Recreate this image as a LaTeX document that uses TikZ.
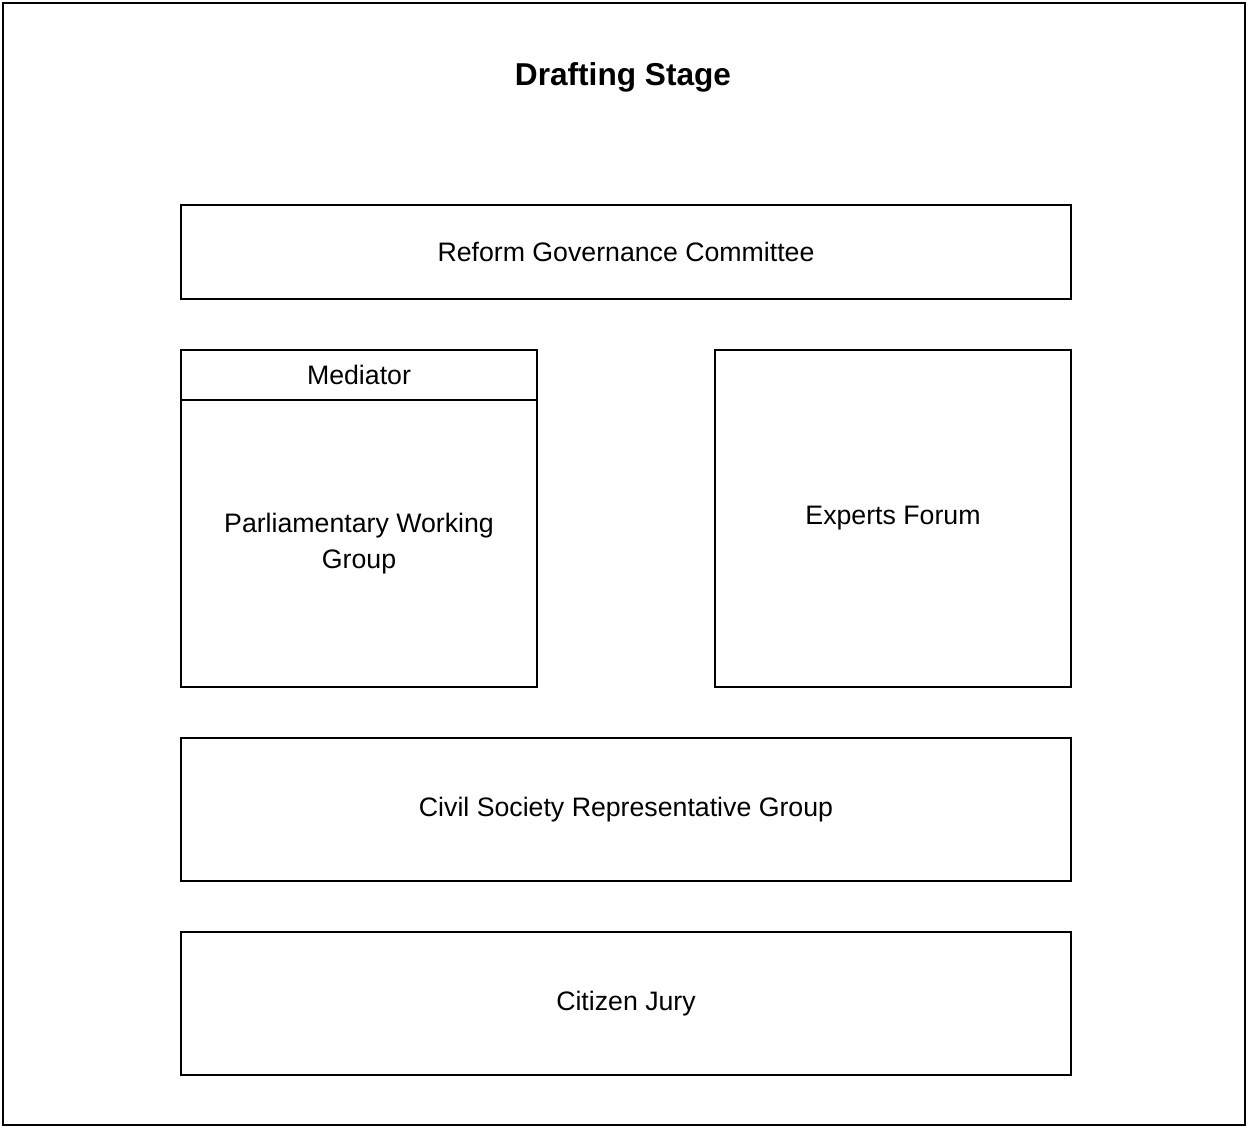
\documentclass[tikz,border=0pt]{standalone}
\usepackage{fontspec}
\setmainfont{Liberation Sans}
\usepackage{tikz}
\usetikzlibrary{positioning}

\begin{document}
\begin{tikzpicture}[x=0.02cm,y=-0.02cm,line width=0.75pt,font=\fontsize{15.2}{20.5}\selectfont]
      \tikzstyle{every node}=[inner sep=0pt,outer sep=0pt]
      \tikzstyle{body}=[draw=black,fill=white,align=center]
      \useasboundingbox (0,0) rectangle (1248,1127);
      \draw (3,3) rectangle (1245,1125);
      \node [font=\fontsize{18}{22}\selectfont\bfseries] (title) at (623,77) {Drafting Stage};
      \node [body,minimum width=17.8cm,minimum height=1.88cm] (rgc) at (626,252) {Reform Governance Committee};
      \node [body,minimum width=7.12cm,minimum height=1cm] (med) at (359,375) {Mediator};
      \node [body,minimum width=7.12cm,minimum height=5.74cm,below=0pt of med] (pwg) {Parliamentary Working\\Group};
      \node [body,minimum width=7.12cm,minimum height=6.74cm] (ef) at (893,518.5) {Experts Forum};
      \node [body,minimum width=17.8cm,minimum height=2.86cm] (csr) at (626,809.5) {Civil Society Representative Group};
      \node [body,minimum width=17.8cm,minimum height=2.86cm] (cj) at (626,1003.5) {Citizen Jury};
\end{tikzpicture}
\end{document}
